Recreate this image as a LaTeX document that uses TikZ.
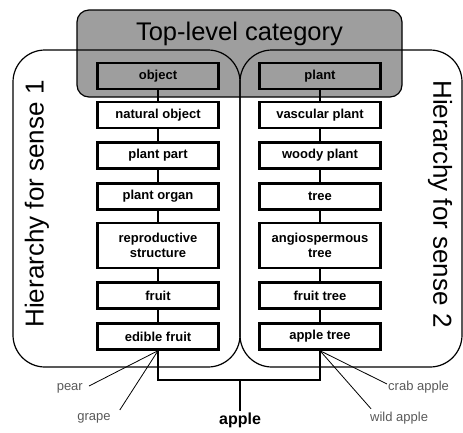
\documentclass[tikz,border=0pt]{standalone}
\usepackage{fontspec}
\setmainfont{Liberation Sans}
\begin{document}
\begin{tikzpicture}[x=1pt,y=-1pt,
  catbox/.style={draw,line width=2.4pt,minimum width=121pt,minimum height=26pt,inner sep=1pt,align=center,font=\bfseries\fontsize{13}{14.5}\selectfont},
  wbox/.style={catbox,fill=white},
  gbox/.style={catbox,fill=black!38},
  conn/.style={line width=1.8pt},
  thin/.style={line width=0.8pt},
  senselbl/.style={font=\fontsize{26}{28}\selectfont},
  small/.style={font=\fontsize{13}{14}\selectfont,text=black!65,inner sep=1pt}]
\useasboundingbox (0,0) rectangle (463,432);
% top-level category
\draw[fill=black!38,line width=1.2pt,rounded corners=12pt] (77,10) rectangle (402,97);
\node[font=\fontsize{25.5}{27}\selectfont] (top) at (239.5,34) {Top-level category};
% sense regions
\draw[line width=1.2pt,rounded corners=32pt] (13,50) rectangle (240,367);
\draw[line width=1.2pt,rounded corners=32pt] (240,50) rectangle (462,367);
\node[senselbl,rotate=90] (s1) at (37,204) {Hierarchy for sense 1};
\node[senselbl,rotate=-90] (s2) at (440,204) {Hierarchy for sense 2};
% left column
\node[gbox] (l1) at (158,76) {object};
\node[wbox] (l2) at (158,115) {natural object};
\node[wbox] (l3) at (158,155.5) {plant part};
\node[wbox] (l4) at (158,196.5) {plant organ};
\node[wbox,minimum height=45pt] (l5) at (158,245.5) {reproductive\\structure};
\node[wbox] (l6) at (158,295.5) {fruit};
\node[wbox] (l7) at (158,336.5) {edible fruit};
% right column
\node[gbox] (r1) at (320,76) {plant};
\node[wbox] (r2) at (320,115) {vascular plant};
\node[wbox] (r3) at (320,155.5) {woody plant};
\node[wbox] (r4) at (320,196.5) {tree};
\node[wbox,minimum height=45pt] (r5) at (320,245.5) {angiospermous\\tree};
\node[wbox] (r6) at (320,295.5) {fruit tree};
\node[wbox] (r7) at (320,336.5) {apple tree};
\foreach \a/\b in {l1/l2,l2/l3,l3/l4,l4/l5,l5/l6,l6/l7,r1/r2,r2/r3,r3/r4,r4/r5,r5/r6,r6/r7}
  \draw[conn] (\a.south) -- (\b.north);
% apple
\node[font=\bfseries\fontsize{16}{17}\selectfont,inner sep=1pt] (apple) at (240,420) {apple};
\coordinate (mid) at (240,380);
\draw[conn] (l7.south) |- (mid) -| (r7.south);
\draw[conn] (mid) -- (apple.north);
% sibling labels
\node[small,anchor=east] (pear) at (84,388) {pear};
\node[small] (grape) at (94,418) {grape};
\node[small,anchor=west] (crab) at (387,387) {crab apple};
\node[small,anchor=west] (wild) at (369,418) {wild apple};
\draw[thin] (pear.east) ++(5,-2) coordinate (pe) -- (l7.south);
\draw[thin] (grape.north east) ++(8,-2) coordinate (ge) -- (l7.south);
\draw[thin] (crab.west) ++(0,-3) coordinate (ce) -- (r7.south);
\draw[thin] (wild.north west) ++(2,-2) coordinate (we) -- (r7.south);
\end{tikzpicture}
\end{document}
